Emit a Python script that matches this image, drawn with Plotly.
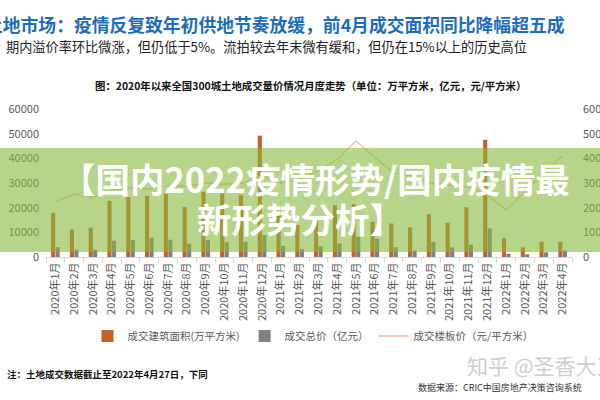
import plotly.graph_objects as go

# ---------------- data ----------------
months = [f"2020年{m}月" for m in range(1, 13)] + [f"2021年{m}月" for m in range(1, 13)] + [f"2022年{m}月" for m in range(1, 5)]

area = [17900, 11100, 11900, 22800, 24300, 24800, 25600, 20200, 26400, 25800, 25100, 49200,
        18300, 13000, 15500, 21000, 21500, 14300, 13600, 12000, 17400, 13900, 20200, 47500,
        7600, 3900, 6200, 6200]

total_price = [4000, 3000, 3000, 6600, 6900, 7800, 7000, 5400, 6900, 6000, 6200, 8900,
               4500, 3200, 4300, 5500, 8200, 7500, 4000, 2600, 6100, 3900, 5000, 11600,
               1300, 1100, 1900, 2600]

floor_price = [2240, 2550, 2420, 2700, 2800, 2750, 2900, 2850, 3000, 2950, 3000, 3300,
               3000, 3150, 3500, 3950, 4700, 4050, 3400, 3300, 3000, 2900, 2850, 2500,
               1900, 2650, 3400, 4100]

left_ticks = [0, 10000, 20000, 30000, 40000, 50000, 60000]
right_ticks = [0, 1000, 2000, 3000, 4000, 5000, 6000]

# ---------------- layout geometry ----------------
W, H = 600, 400
ML, MR, MT, MB = 46, 28, 109, 143
PW = W - ML - MR
PH = H - MT - MB


def px(x):
    return (x - ML) / PW


def py(y):
    return (H - MB - y) / PH


CJK = "Noto Sans CJK SC"
AX = "#595959"

fig = go.Figure()
fig.add_trace(go.Bar(x=months, y=area, name="成交建筑面积(万平方米)",
                     marker_color="#C9602A", marker_line_width=0))
fig.add_trace(go.Bar(x=months, y=total_price, name="成交总价（亿元）",
                     marker_color="#808080", marker_line_width=0))
fig.add_trace(go.Scatter(x=months, y=floor_price, name="成交楼板价（元/平方米）",
                         mode="lines", line=dict(color="#F2B99A", width=1.3), yaxis="y2"))

fig.update_layout(
    width=W, height=H,
    margin=dict(l=ML, r=MR, t=MT, b=MB, pad=0, autoexpand=False),
    paper_bgcolor="white", plot_bgcolor="white",
    font=dict(family=CJK, size=11, color=AX),
    barmode="group", bargap=0.52, bargroupgap=0.08,
    showlegend=True,
    legend=dict(orientation="h", x=px(313), xanchor="center", y=py(336), yanchor="middle",
                font=dict(size=10.5, color=AX), traceorder="normal",
                bgcolor="rgba(0,0,0,0)"),
    xaxis=dict(type="category", tickangle=-90, ticks="outside", tickson="boundaries",
               ticklen=5, tickcolor="#d9d9d9", showline=True, linecolor="#d9d9d9",
               showgrid=False, automargin=False, tickfont=dict(size=11, color=AX)),
    yaxis=dict(range=[0, 60000], tickvals=left_ticks, ticktext=[str(v) for v in left_ticks],
               showgrid=False, zeroline=False, automargin=False,
               showline=False, ticks="", ticklabelstandoff=6, tickfont=dict(size=11, color=AX)),
    yaxis2=dict(range=[0, 6000], tickvals=right_ticks, ticktext=[str(v) for v in right_ticks],
                overlaying="y", side="right", automargin=False,
                showgrid=False, zeroline=False, showline=False, ticks="",
                ticklabelstandoff=10, tickfont=dict(size=11, color=AX)),
)

# green banner overlay
fig.add_shape(type="rect", xref="paper", yref="paper", x0=-0.2, x1=1.2,
              y0=py(252), y1=py(148), fillcolor="rgba(135,185,60,0.6)",
              line_width=0, layer="above")

ann = []
ann.append(dict(text="<b>土地市场：疫情反复致年初供地节奏放缓，前4月成交面积同比降幅超五成</b>",
                x=px(567), y=py(24), xanchor="right", yanchor="middle",
                font=dict(size=17.8, color="#1F6CB8", family=CJK)))
ann.append(dict(text="期内溢价率环比微涨，但仍低于5%。流拍较去年末微有缓和，但仍在15%以上的历史高位",
                x=px(529), y=py(46), xanchor="right", yanchor="middle",
                font=dict(size=13.2, color="#222222", family=CJK)))
ann.append(dict(text="<b>图：2020年以来全国300城土地成交量价情况月度走势（单位：万平方米，亿元，元/平方米）</b>",
                x=px(310), y=py(85), xanchor="center", yanchor="middle",
                font=dict(size=10.4, color="#111111", family=CJK)))
ann.append(dict(text="<b>【国内2022疫情形势/国内疫情最</b>",
                x=px(315), y=py(178), xanchor="center", yanchor="middle",
                font=dict(size=34.5, color="white", family=CJK)))
ann.append(dict(text="<b>新形势分析】</b>",
                x=px(300), y=py(218), xanchor="center", yanchor="middle",
                font=dict(size=34.5, color="white", family=CJK)))
ann.append(dict(text="<b>注：土地成交数据截止至2022年4月27日，下同</b>",
                x=px(5), y=py(374), xanchor="left", yanchor="middle",
                font=dict(size=9.5, color="#111111", family=CJK)))
ann.append(dict(text="知乎 @圣香大王",
                x=px(466), y=py(365), xanchor="left", yanchor="middle",
                font=dict(size=21, color="#cfcfcf", family=CJK), borderpad=0))
ann.append(dict(text="数据来源：CRIC中国房地产决策咨询系统",
                x=px(583), y=py(387), xanchor="right", yanchor="middle",
                font=dict(size=9, color="#333333", family=CJK), borderpad=0))
for a in ann:
    a.update(xref="paper", yref="paper", showarrow=False)
fig.update_layout(annotations=ann)

fig.write_html("out.html")
